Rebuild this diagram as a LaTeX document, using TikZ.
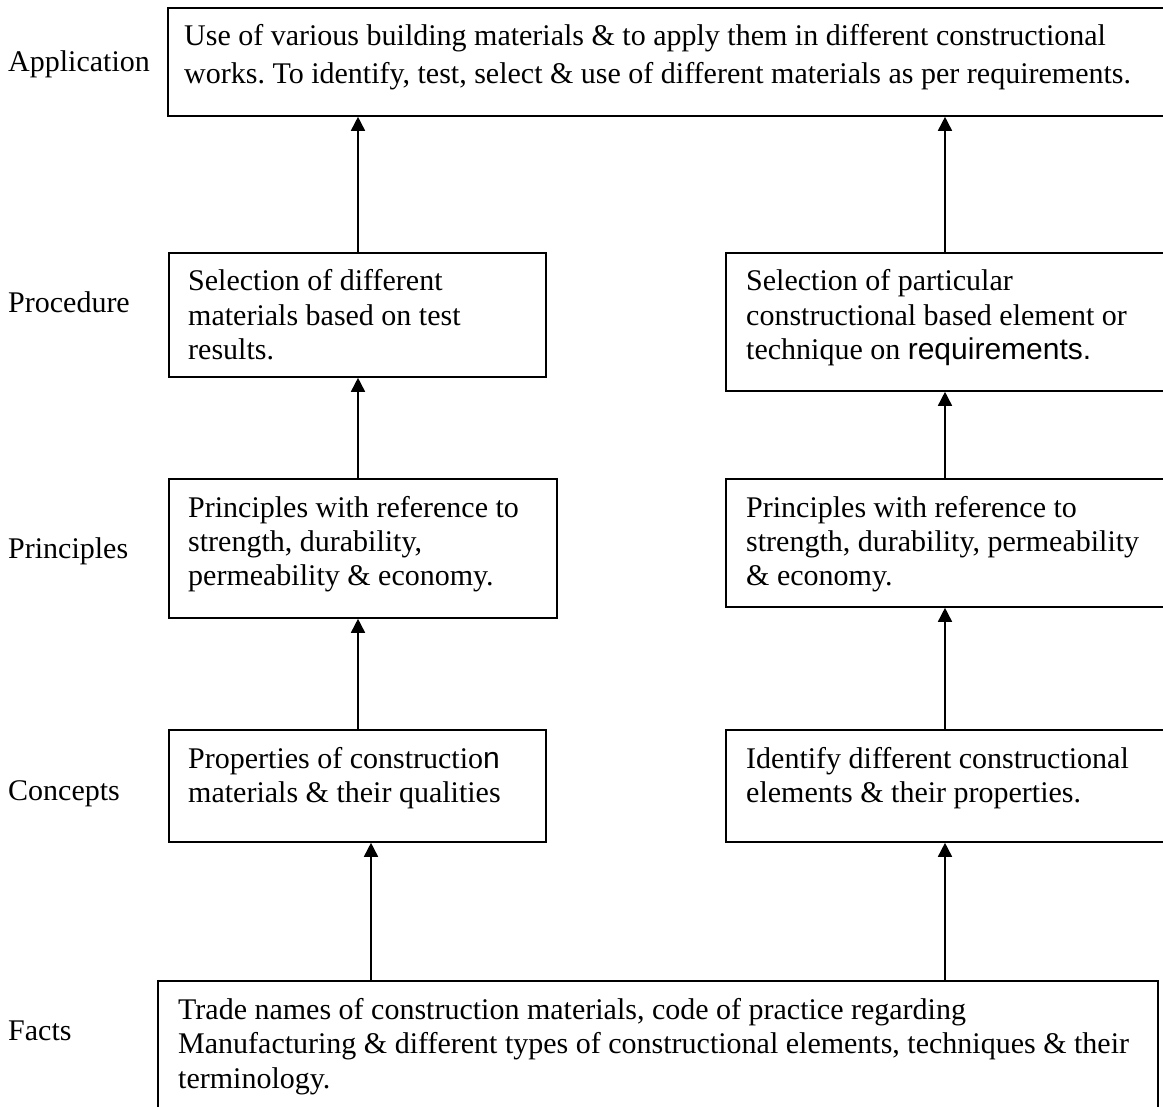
\documentclass[tikz,border=0pt]{standalone}
\usepackage{fontspec}
\setmainfont{Liberation Serif}
\newfontfamily\arialfont{Liberation Sans}
\usetikzlibrary{arrows.meta,fit}
\frenchspacing

\tikzset{
  box/.style={draw=black, line width=1.6pt, rectangle, inner sep=0pt, fill=none},
  txt/.style={inner sep=0pt, anchor=base west, font=\fontsize{30}{34.5}\selectfont},
  lvl/.style={inner sep=0pt, anchor=base west, font=\fontsize{30}{34.5}\selectfont},
  arr/.style={line width=1.6pt, -{Triangle[length=14pt,width=14pt]}}
}
\newcommand{\lines}[1]{\parbox[t]{1000pt}{\raggedright\frenchspacing #1}}

\begin{document}
\begin{tikzpicture}[x=1pt,y=-1pt]
  \clip (0,0) rectangle (1163,1107);
  \fill[white] (0,0) rectangle (1163,1107);

  % level labels on the left
  \node[lvl] (lapp)  at (8,72)   {Application};
  \node[lvl] (lproc) at (8,313)  {Procedure};
  \node[lvl] (lprin) at (8,558)  {Principles};
  \node[lvl] (lconc) at (8,800)  {Concepts};
  \node[lvl] (lfact) at (8,1040) {Facts};

  % boxes
  \node[box, fit={(168,8) (1180,116)}]   (app)   {};
  \node[box, fit={(169,253) (546,377)}]  (procL) {};
  \node[box, fit={(726,253) (1180,391)}] (procR) {};
  \node[box, fit={(169,479) (557,618)}]  (prinL) {};
  \node[box, fit={(726,479) (1180,607)}] (prinR) {};
  \node[box, fit={(169,730) (546,842)}]  (concL) {};
  \node[box, fit={(726,730) (1180,842)}] (concR) {};
  \node[box, fit={(158,981) (1158,1130)}] (facts) {};

  % box texts
  \node[txt, font=\fontsize{30}{38}\selectfont] (appt) at (184,46)
    {\lines{Use of various building materials \& to apply them in different constructional\\
     works. To identify, test, select \& use of different materials as per requirements.}};
  \node[txt] (procLt) at (188,291)
    {\lines{Selection of different\\materials based on test\\results.}};
  \node[txt] (procRt) at (746,291)
    {\lines{Selection of particular\\constructional based element or\\technique on {\arialfont requirements.}}};
  \node[txt] (prinLt) at (188,517)
    {\lines{Principles with reference to\\strength, durability,\\permeability \& economy.}};
  \node[txt] (prinRt) at (746,517)
    {\lines{Principles with reference to\\strength, durability, permeability\\\& economy.}};
  \node[txt] (concLt) at (188,768)
    {\lines{Properties of constructio{\arialfont n}\\materials \& their qualities}};
  \node[txt] (concRt) at (746,768)
    {\lines{Identify different constructional\\elements \& their properties.}};
  \node[txt] (factst) at (178,1019)
    {\lines{Trade names of construction materials, code of practice regarding\\
     Manufacturing \& different types of constructional elements, techniques \& their\\
     terminology.}};

  % arrow columns
  \coordinate (colA) at (358,0);
  \coordinate (colB) at (945,0);
  \coordinate (colC) at (371,0);

  % connectors
  \draw[arr] (procL.north -| colA) -- (app.south -| colA);
  \draw[arr] (procR.north -| colB) -- (app.south -| colB);
  \draw[arr] (prinL.north -| colA) -- (procL.south -| colA);
  \draw[arr] (prinR.north -| colB) -- (procR.south -| colB);
  \draw[arr] (concL.north -| colA) -- (prinL.south -| colA);
  \draw[arr] (concR.north -| colB) -- (prinR.south -| colB);
  \draw[arr] (facts.north -| colC) -- (concL.south -| colC);
  \draw[arr] (facts.north -| colB) -- (concR.south -| colB);
\end{tikzpicture}
\end{document}
